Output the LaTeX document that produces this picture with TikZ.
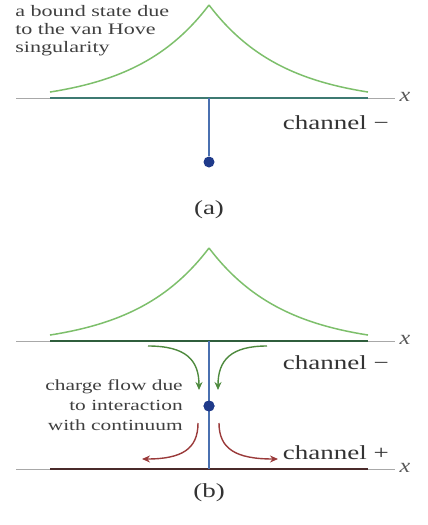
\documentclass[tikz,border=0pt]{standalone}
\usepackage{fontspec}
\setmainfont{Liberation Serif}
\usetikzlibrary{arrows.meta}
\definecolor{peakgreen}{HTML}{7DBF6B}
\definecolor{flowgreen}{HTML}{4E8A3E}
\definecolor{flowred}{HTML}{9A3A3A}
\definecolor{axisgrey}{HTML}{A8A8A8}
\definecolor{chanA}{HTML}{3E7A72}
\definecolor{chanBtop}{HTML}{2F5E3C}
\definecolor{chanBbot}{HTML}{4A2A2A}
\definecolor{vline}{HTML}{4A70B0}
\definecolor{dotblue}{HTML}{1F3A8A}
\tikzset{
  axis/.style={draw=axisgrey, line width=0.8pt},
  chanline/.style={line width=2.2pt},
  peak/.style={draw=peakgreen, line width=1.5pt},
  vert/.style={draw=vline, line width=1.5pt},
  bound/.style={circle, fill=dotblue, inner sep=0pt, minimum size=11pt},
  lab/.style={font=\fontsize{20}{22}\selectfont, text=black!80, xscale=1.35, inner sep=0pt},
  small/.style={font=\fontsize{16}{18}\selectfont, text=black!75, xscale=1.38, inner sep=0pt},
  xlab/.style={font=\fontsize{20}{22}\selectfont\itshape, text=black!65, xscale=1.2, inner sep=0pt},
  flow/.style={line width=1.4pt, -{Stealth[length=8pt,width=7pt]}},
}
\begin{document}
\begin{tikzpicture}[x=1pt,y=-1pt]
\useasboundingbox (0,0) rectangle (428,525);
% ---------- panel (a)
\draw[axis] (16,98) -- (395,98);
\node[xlab] (xa) at (405,97) {x};
\draw[peak] plot[domain=50:209, samples=80] (\x, {103.9-98.9*exp(-(209-\x)/75)});
\draw[peak] plot[domain=209:368, samples=80] (\x, {103.9-98.9*exp(-(\x-209)/75)});
\draw[chanline, draw=chanA] (50,98) -- (368,98);
\coordinate (topA) at (209,98);
\node[bound] (dotA) at (209,162) {};
\draw[vert] (topA) -- (dotA);
\node[lab, anchor=east] (chA) at (389,123) {channel −};
\node[small, anchor=north west, align=left] (note) at (15,5) {a bound state due\\to the van Hove\\singularity};
\node[lab] (capA) at (209,210) {(a)};
% ---------- panel (b)
\draw[axis] (16,341) -- (395,341);
\draw[axis] (16,469) -- (395,469);
\node[xlab] (xb1) at (405,340) {x};
\node[xlab] (xb2) at (405,468) {x};
\draw[peak] plot[domain=50:209, samples=80] (\x, {346.9-98.9*exp(-(209-\x)/75)});
\draw[peak] plot[domain=209:368, samples=80] (\x, {346.9-98.9*exp(-(\x-209)/75)});
\draw[chanline, draw=chanBtop] (50,341) -- (368,341);
\draw[chanline, draw=chanBbot] (50,469) -- (368,469);
\coordinate (topB) at (209,341);
\coordinate (botB) at (209,469);
\node[bound] (dotB) at (209,406) {};
\draw[vert] (topB) -- (botB);
\node[bound] at (dotB) {};
\node[lab, anchor=east] (chB1) at (389,363) {channel −};
\node[lab, anchor=east] (chB2) at (389,453) {channel +};
\node[small, anchor=east, align=right, font=\fontsize{15.5}{20}\selectfont] (flowtxt) at (183,405) {charge flow due\\to interaction\\with continuum};
\node[lab] (capB) at (209,493) {(b)};
% flow arrows
\coordinate (g1s) at (148,346); \coordinate (g1e) at (199,390);
\coordinate (g2s) at (267,346); \coordinate (g2e) at (218,390);
\coordinate (r1s) at (198,423); \coordinate (r1e) at (142,459);
\coordinate (r2s) at (219,423); \coordinate (r2e) at (278,459);
\draw[flow, draw=flowgreen] (g1s) .. controls (186,346) and (199,360) .. (g1e);
\draw[flow, draw=flowgreen] (g2s) .. controls (231,346) and (218,360) .. (g2e);
\draw[flow, draw=flowred] (r1s) .. controls (198,449) and (182,459) .. (r1e);
\draw[flow, draw=flowred] (r2s) .. controls (219,449) and (236,459) .. (r2e);
\end{tikzpicture}
\end{document}
